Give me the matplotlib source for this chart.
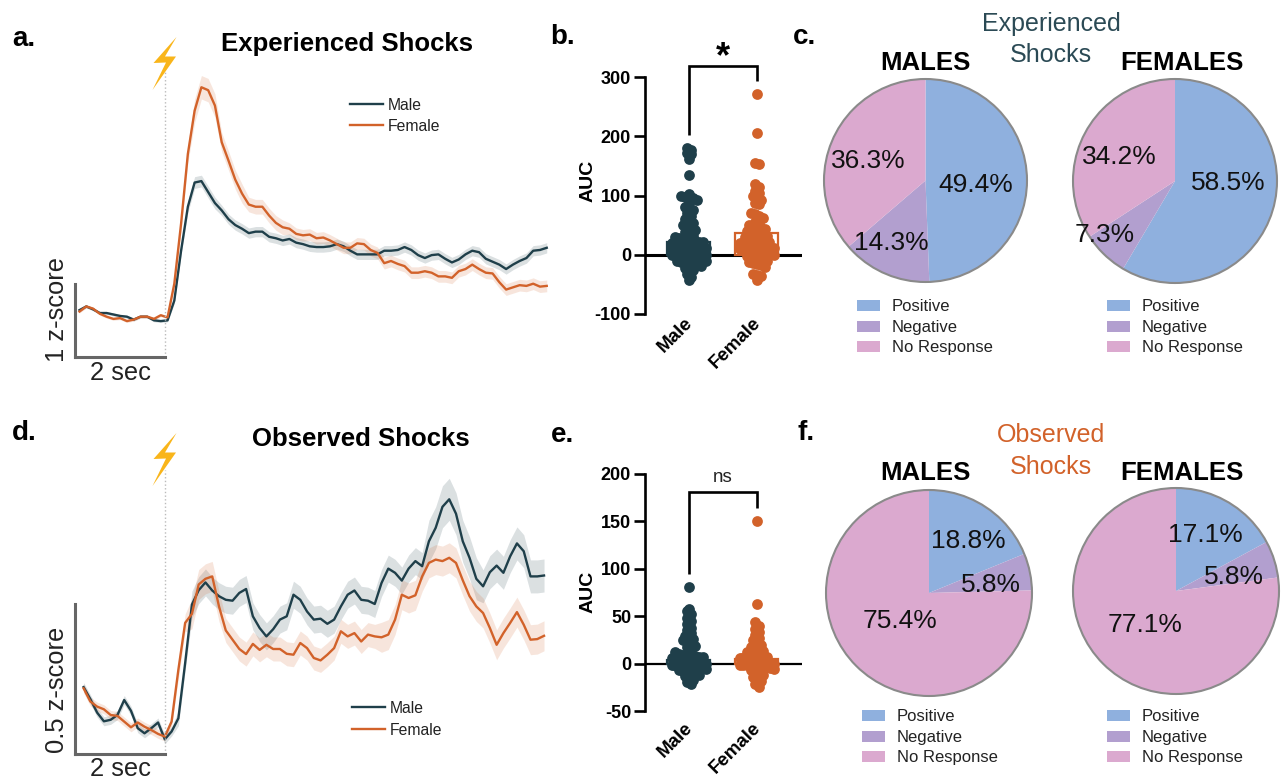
import numpy as np
import matplotlib
matplotlib.use("Agg")
import matplotlib.pyplot as plt
from matplotlib.patches import Circle, Polygon, Rectangle
from matplotlib.transforms import ScaledTranslation

plt.rcParams['font.family'] = ['Liberation Sans', 'DejaVu Sans']
plt.rcParams['axes.unicode_minus'] = False

W, H = 1286, 780
MALE = "#1F3F4A"
FEMALE = "#D2622A"
PIE_COLORS = ["#8FB0DE", "#B29FCF", "#DBA9CF"]
PIE_NAMES = ["Positive", "Negative", "No Response"]

# traces, one reading every 0.15 s
exp_t = -1.9 + 0.15 * np.arange(70)
exp_male = [.64, .69, .65, .60, .60, .58, .56, .55, .51, .55, .55, .50, .49, .50,
            .77, 1.45, 2.05, 2.38, 2.40, 2.25, 2.10, 2.00, 1.88, 1.80, 1.75, 1.69, 1.71, 1.71,
            1.64, 1.62, 1.59, 1.61, 1.56, 1.54, 1.51, 1.50, 1.50, 1.51, 1.54, 1.51, 1.45, 1.40,
            1.40, 1.40, 1.40, 1.45, 1.45, 1.46, 1.50, 1.46, 1.39, 1.35, 1.39, 1.40, 1.34, 1.29,
            1.33, 1.40, 1.45, 1.43, 1.34, 1.30, 1.26, 1.20, 1.26, 1.31, 1.35, 1.45, 1.46, 1.49]
exp_female = [.62, .69, .66, .59, .55, .52, .53, .49, .51, .55, .55, .52, .57, .54,
              1.00, 1.82, 2.77, 3.36, 3.68, 3.64, 3.43, 2.93, 2.68, 2.42, 2.23, 2.08, 2.05, 2.05,
              1.93, 1.83, 1.77, 1.75, 1.68, 1.66, 1.67, 1.62, 1.63, 1.59, 1.54, 1.49, 1.49, 1.55,
              1.54, 1.46, 1.42, 1.28, 1.31, 1.27, 1.24, 1.15, 1.15, 1.17, 1.15, 1.10, 1.10, 1.08,
              1.17, 1.20, 1.26, 1.20, 1.15, 1.14, 1.02, .92, .95, .98, .97, 1.00, .96, .97]
exp_male_sem = [.02] * 14 + [.04, .05] + [.08] * 5 + [.07] * 49
exp_female_sem = [.02] * 14 + [.05, .10, .12] + [.16] * 4 + [.13] * 4 + [.10] * 6 + [.08] * 39

obs_t = -1.81 + 0.15 * np.arange(69)
obs_male = [.223, .183, .138, .109, .114, .130, .180, .144, .086, .069, .086, .105, .049, .075,
            .119, .303, .498, .546, .572, .545, .526, .514, .511, .537, .550, .459, .420, .392,
            .416, .448, .459, .531, .514, .475, .448, .451, .434, .448, .492, .531, .545, .514,
            .511, .500, .570, .618, .604, .578, .618, .643, .626, .709, .754, .824, .849, .801,
            .709, .654, .584, .559, .606, .628, .604, .659, .702, .676, .592, .592, .595]
obs_female = [.219, .175, .158, .149, .130, .127, .108, .089, .105, .091, .080, .067, .058, .108,
              .281, .437, .467, .565, .584, .592, .492, .412, .381, .350, .333, .367, .347, .364,
              .350, .350, .334, .331, .370, .353, .320, .312, .331, .353, .409, .392, .403, .375,
              .398, .392, .389, .398, .448, .531, .520, .529, .592, .637, .648, .643, .654, .637,
              .579, .526, .492, .470, .420, .364, .403, .437, .473, .431, .381, .383, .394]
obs_male_sem = [.015] * 14 + [.025, .025] + [.045] * 35 + [.07] * 8 + [.055] * 10
obs_female_sem = [.015] * 14 + [.03, .03] + [.05] * 5 + [.04] * 23 + [.05] * 25

# AUC values
auc_exp_male = [180, 177, 172, 170, 162, 135, 103, 100, 98, 97, 95, 93, 88, 80, 78, 75, 70, 65, 60,
                56, 53, 50, 47, 45, 42, 38, 35, 32, 30, 28, 26, 25, 24, 23, 22, 21, 20, 20, 19, 18,
                17, 16, 15, 15, 14, 14, 13, 13, 12, 12, 11, 11, 10, 10, 9, 9, 8, 8, 7, 7, 6, 6, 5,
                5, 4, 4, 3, 3, 2, 2, 1, 1, 0, 0, -1, -1, -2, -2, -3, -3, -4, -5, -5, -6, -7, -8, -9,
                -10, -11, -12, -13, -14, -15, -17, -19, -22, -24, -26, -32, -38, -42]
auc_exp_female = [272, 206, 155, 153, 120, 115, 108, 105, 100, 95, 92, 88, 85, 70, 68, 66, 62, 55,
                  52, 50, 48, 46, 45, 43, 40, 38, 36, 35, 33, 32, 30, 28, 26, 25, 23, 22, 21, 20,
                  19, 18, 17, 16, 15, 14, 13, 12, 11, 10, 9, 8, 7, 6, 5, 4, 3, 2, 1, 0, -2, -3, -5,
                  -7, -8, -10, -12, -14, -16, -18, -20, -32, -34, -36, -43]
auc_obs_male = [81, 58, 55, 52, 48, 45, 42, 38, 35, 32, 29, 27, 26, 25, 23, 21, 19, 17, 15, 12, 10,
                9, 9, 8, 8, 7, 7, 6, 6, 5, 5, 5, 4, 4, 4, 3, 3, 3, 2, 2, 2, 2, 1, 1, 1, 1, 0, 0, 0,
                0, -1, -1, -1, -2, -2, -2, -3, -3, -4, -4, -5, -5, -6, -7, -8, -9, -10, -11, -12,
                -13, -15, -17, -19, -22]
auc_obs_female = [150, 63, 44, 40, 36, 33, 30, 27, 25, 22, 20, 18, 16, 14, 13, 12, 11, 10, 9, 8, 7,
                  6, 6, 5, 5, 4, 4, 3, 3, 3, 2, 2, 2, 1, 1, 1, 0, 0, 0, 0, -1, -1, -1, -2, -2, -2,
                  -3, -3, -4, -5, -6, -7, -8, -10, -12, -14, -16, -18, -21, -25]
auc_exp_means = [22, 37]
auc_obs_means = [4, 5]

# percentages
pie_exp_male = [49.4, 14.3, 36.3]
pie_exp_female = [58.5, 7.3, 34.2]
pie_obs_male = [18.8, 5.8, 75.4]
pie_obs_female = [17.1, 5.8, 77.1]

fig = plt.figure(figsize=(W / 100, H / 100), dpi=100)


def px_axes(left, top, right, bottom):
    ax = fig.add_axes([left / W, 1 - bottom / H, (right - left) / W, (bottom - top) / H])
    ax.patch.set_alpha(0)
    return ax


# overlay in pixels for labels and annotations
ov = fig.add_axes([0, 0, 1, 1])
ov.set_xlim(0, W)
ov.set_ylim(H, 0)
ov.axis("off")
ov.set_zorder(5)


def label(x, y, txt, **kw):
    kw.setdefault("ha", "center")
    kw.setdefault("va", "center")
    ov.text(x, y + 1.5, txt, **kw)


def trace_panel(t, male, female, male_sem, female_sem, bottom, top, px_per_z, bar_z, dot_top):
    ax = px_axes(75, top, 550, bottom)
    ax.set_xlim(-2, (550 - 166.5) / 45)
    ax.set_ylim(0, (bottom - top) / px_per_z)
    for y, sem, col in [(male, male_sem, MALE), (female, female_sem, FEMALE)]:
        y = np.array(y)
        sem = np.array(sem)
        ax.fill_between(t, y - sem, y + sem, color=col, alpha=0.16, lw=0)
        ax.plot(t, y, color=col, lw=1.7)
    ax.spines[["top", "right"]].set_visible(False)
    ax.spines["left"].set_bounds(0, bar_z)
    ax.spines["bottom"].set_bounds(-2, 0)
    for s in ["left", "bottom"]:
        ax.spines[s].set_color("#666666")
        ax.spines[s].set_linewidth(2.2)
    ax.set_xticks([])
    ax.set_yticks([])
    ax.plot([0, 0], [0, (bottom - dot_top) / px_per_z], color="#bbbbbb", lw=1, ls=":")
    return ax


trace_panel(exp_t, exp_male, exp_female, exp_male_sem, exp_female_sem, 357, 40, 73.3, 1, 72)
trace_panel(obs_t, obs_male, obs_female, obs_male_sem, obs_female_sem, 754, 470, 300, 0.5, 470)


def swarm_offsets(values, px_per_unit, bin_px=6, step=4.0, limit=17):
    # binned like a prism scatter: each bin is spread evenly around the centre
    values = np.array(values, dtype=float)
    bins = np.floor(values * px_per_unit / bin_px).astype(int)
    offsets = np.zeros(len(values))
    for b in np.unique(bins):
        idx = np.where(bins == b)[0]
        n = len(idx)
        st = min(step, 2 * limit / max(n - 1, 1))
        for k, i in enumerate(idx):
            offsets[i] = (k - (n - 1) / 2) * st
    return offsets


def auc_panel(male, female, means, top, bottom, ymin, ymax, yticks, bracket, zero_lw, xpad):
    ax = px_axes(645, top, 802, bottom)
    ax.set_ylim(ymin, ymax)
    ax.set_xlim((645 - 688.5) / 68.2, (802 - 688.5) / 68.2)
    scale = (bottom - top) / (ymax - ymin)
    ax.axhline(0, color="black", lw=zero_lw, zorder=1)
    ax.bar([0, 1], means, width=0.63, facecolor="none", edgecolor=[MALE, FEMALE], lw=1.6, zorder=2)
    for i, (vals, col) in enumerate([(male, MALE), (female, FEMALE)]):
        xs = i + swarm_offsets(vals, scale) / 68.2
        ax.scatter(xs, vals, s=60, color=col, lw=0, zorder=3, clip_on=False)
    ax.plot([0, 0, 1, 1], bracket, color="black", lw=1.9, clip_on=False,
            solid_capstyle="butt", solid_joinstyle="miter")
    for s in ["top", "right", "bottom"]:
        ax.spines[s].set_visible(False)
    ax.spines["left"].set_linewidth(1.9)
    ax.set_yticks(yticks)
    ax.tick_params(axis="y", length=8, width=1.9, pad=2, labelsize=13)
    ax.set_xticks([0, 1], ["Male", "Female"], rotation=45, ha="right",
                  rotation_mode="anchor", fontweight="bold", fontsize=13.5)
    ax.tick_params(axis="x", length=0, pad=xpad)
    shift = ScaledTranslation(-5 / 100, 0, fig.dpi_scale_trans)
    for lab in ax.get_xticklabels():
        lab.set_transform(lab.get_transform() + shift)
    for lab in ax.get_yticklabels():
        lab.set_fontweight("bold")
    return ax


auc_panel(auc_exp_male, auc_exp_female, auc_exp_means, 77, 314, -100, 300,
          [-100, 0, 100, 200, 300], [202, 319, 319, 293], 2.2, 0)
auc_panel(auc_obs_male, auc_obs_female, auc_obs_means, 474, 711, -50, 200,
          [-50, 0, 50, 100, 150, 200], [95, 180.5, 180.5, 164], 1.6, 6)


def pie_panel(values, cx, cy, r):
    ax = px_axes(cx - r, cy - r, cx + r, cy + r)
    ax.pie(values, colors=PIE_COLORS, startangle=90, counterclock=False,
           wedgeprops={"linewidth": 0})
    ax.set_xlim(-1, 1)
    ax.set_ylim(-1, 1)
    ax.add_patch(Circle((0, 0), 1, fill=False, ec="#8a8a8a", lw=1.5, clip_on=False))


pie_panel(pie_exp_male, 925.5, 180.5, 101.5)
pie_panel(pie_exp_female, 1175, 181, 102)
pie_panel(pie_obs_male, 929, 593, 103)
pie_panel(pie_obs_female, 1176, 591, 103)


def pct(values, positions):
    for v, (x, y) in zip(values, positions):
        label(x, y, f"{v}%", fontsize=19, color="#111111")


pct(pie_exp_male, [(976, 183), (891, 242), (868, 159)])
pct(pie_exp_female, [(1228, 182), (1105, 233), (1119, 156)])
pct(pie_obs_male, [(968, 539), (991, 584), (900, 620)])
pct(pie_obs_female, [(1205, 534), (1234, 575), (1145, 624)])


def pie_legend(x, ys):
    for name, col, y in zip(PIE_NAMES, PIE_COLORS, ys):
        ov.add_patch(Rectangle((x, y - 5.5), 23, 11, color=col, lw=0))
        label(x + 35, y, name, fontsize=12, ha="left", color="#222222")


pie_legend(857, [305, 326, 346])
pie_legend(1107, [305, 326, 346])
pie_legend(862, [715, 736, 756])
pie_legend(1107, [715, 736, 756])


def line_legend(x, y1, y2):
    for name, col, y in [("Male", MALE, y1), ("Female", FEMALE, y2)]:
        ov.plot([x, x + 33], [y, y], color=col, lw=1.7)
        label(x + 38, y, name, fontsize=11.3, ha="left", color="#222222")


line_legend(350, 104, 125)
line_legend(352, 707, 729)


def bolt(dy):
    pts = [(176.5, 37), (153.5, 63), (166, 62.5), (152.5, 90), (176, 56.5), (165, 56.5)]
    ov.add_patch(Polygon([(x, y + dy) for x, y in pts], closed=True, color="#F9B51A", lw=0))


bolt(0)
bolt(396)

for txt, x, y in [("a.", 24, 37), ("b.", 563, 36), ("c.", 805, 36),
                  ("d.", 24, 432), ("e.", 563, 433), ("f.", 806, 432)]:
    label(x, y, txt, fontsize=20, fontweight="bold")

label(347, 42, "Experienced Shocks", fontsize=18.5, fontweight="bold")
label(361, 438, "Observed Shocks", fontsize=18.5, fontweight="bold")
for txt, x, y in [("MALES", 925, 61), ("FEMALES", 1182, 61), ("MALES", 925, 472), ("FEMALES", 1182, 472)]:
    label(x, y, txt, fontsize=18.5, fontweight="bold")

label(1051, 22, "Experienced", fontsize=18, color="#2B4A55")
label(1051, 53, "Shocks", fontsize=18, color="#2B4A55")
label(1051, 434, "Observed", fontsize=18, color=FEMALE)
label(1051, 465, "Shocks", fontsize=18, color=FEMALE)

ov.text(57, 309, "1 z-score", fontsize=18.4, rotation=90, ha="center", va="center", color="#222222")
ov.text(57, 690, "0.5 z-score", fontsize=18.4, rotation=90, ha="center", va="center", color="#222222")
label(120, 371, "2 sec", fontsize=18.4, color="#222222")
label(120, 767, "2 sec", fontsize=18.4, color="#222222")

ov.text(588, 181, "AUC", fontsize=14, fontweight="bold", rotation=90, ha="center", va="center")
ov.text(588, 592, "AUC", fontsize=14, fontweight="bold", rotation=90, ha="center", va="center")
label(723, 56, "*", fontsize=26, fontweight="bold")
label(723, 476, "ns", fontsize=13.5, color="#222222")

fig.savefig("out.png", dpi=100)
